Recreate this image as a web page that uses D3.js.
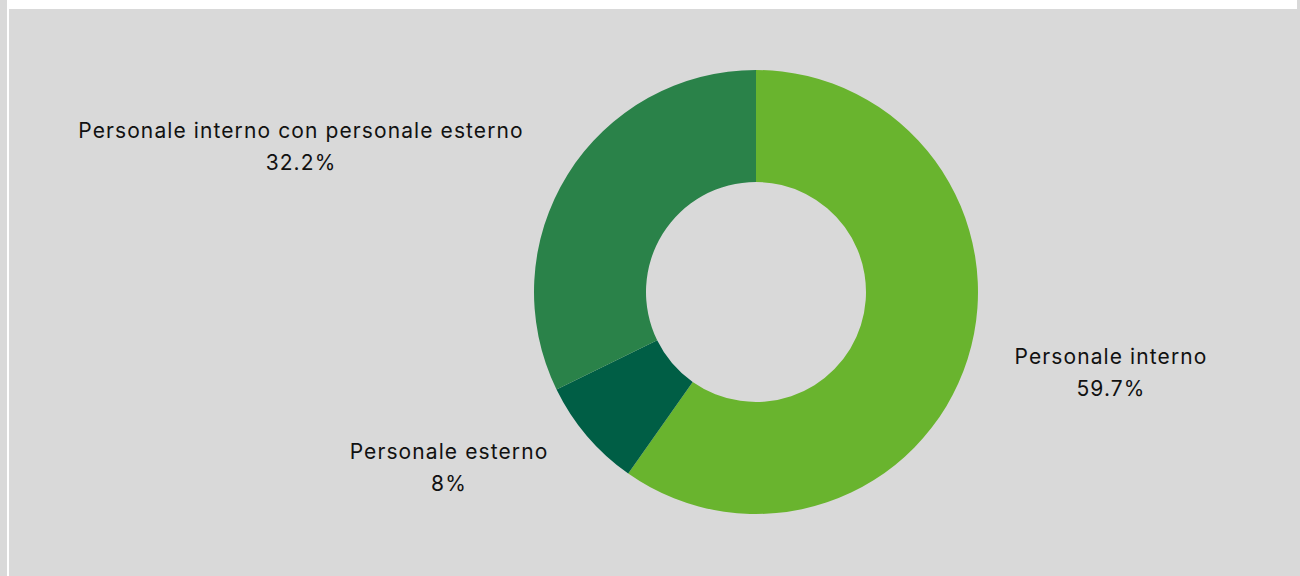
<!DOCTYPE html>
<html>
<head>
<meta charset="utf-8">
<script src="https://cdn.jsdelivr.net/npm/d3@7"></script>
<style>
  html, body { margin: 0; padding: 0; background: #ffffff; }
  svg { display: block; }
  text { font-family: "Inter", "Noto Sans", sans-serif; fill: #111111; }
</style>
</head>
<body>
<svg id="chart" width="1300" height="576"></svg>
<script>
// Staffing breakdown (share of respondents, %)
const categories = ["Personale interno", "Personale esterno", "Personale interno con personale esterno"];
const values = [59.7, 8, 32.2];
const valueLabels = ["59.7%", "8%", "32.2%"];
const colors = ["#69b42e", "#005e45", "#2a8249"];

const W = 1300, H = 576;
const svg = d3.select("#chart");

// panel background
svg.append("rect").attr("x", 0).attr("y", 0).attr("width", 7).attr("height", H).attr("fill", "#d9d9d9");
svg.append("rect").attr("x", 9).attr("y", 9).attr("width", W - 9).attr("height", H - 9).attr("fill", "#d9d9d9");
svg.append("rect").attr("x", 1297).attr("y", 0).attr("width", 3).attr("height", 9).attr("fill", "#d9d9d9");

const cx = 756, cy = 292, outerR = 222, innerR = 110;

const pie = d3.pie().sort(null).value(d => d.value);
const data = categories.map((c, i) => ({ name: c, value: values[i], label: valueLabels[i], color: colors[i] }));
const arcs = pie(data);

const arc = d3.arc().innerRadius(innerR).outerRadius(outerR);
const g = svg.append("g").attr("transform", `translate(${cx},${cy})`);

g.selectAll("path.slice")
  .data(arcs)
  .join("path")
  .attr("class", "slice")
  .attr("d", arc)
  .attr("fill", d => d.data.color);

// label anchor points (centre of each two-line label)
const labelPos = [
  [1111, 357],
  [449, 452],
  [301, 131]
];

arcs.forEach((a, i) => {
  const x = labelPos[i][0] - cx;
  const t = g.append("text")
    .attr("text-anchor", "middle")
    .attr("font-size", 21)
    .attr("letter-spacing", "1.1px")
    .attr("y", labelPos[i][1] - cy);
  t.append("tspan").attr("x", x).attr("dy", "0.35em").text(a.data.name);
  t.append("tspan").attr("x", x).attr("dy", 32).text(a.data.label);
});
</script>
</body>
</html>
